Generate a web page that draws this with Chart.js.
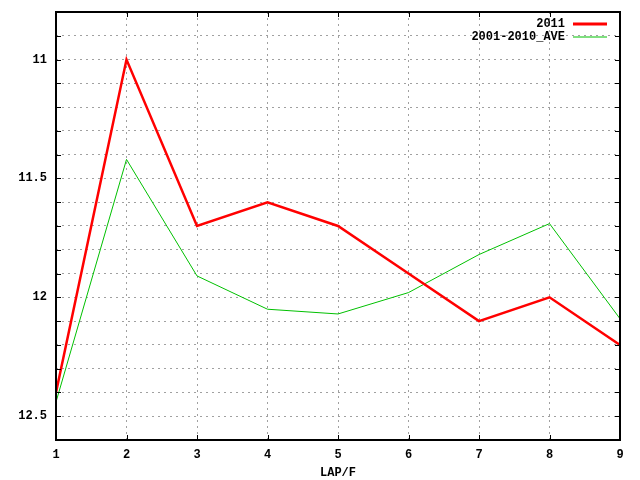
<!DOCTYPE html>
<html>
<head>
  <meta charset="UTF-8">
  <title>LAP/F</title>
  <script src="https://cdn.jsdelivr.net/npm/chart.js"></script>
  <style>
    html, body { margin: 0; padding: 0; background: #fff; }
    #wrap { width: 640px; height: 480px; }
  </style>
</head>
<body>
  <div id="wrap"><canvas id="chart" width="640" height="480"></canvas></div>
  <script>
    const laps = [1, 2, 3, 4, 5, 6, 7, 8, 9];
    const lap2011 = [12.4, 11.0, 11.7, 11.6, 11.7, 11.9, 12.1, 12.0, 12.2];
    const lapAve = [12.44, 11.42, 11.91, 12.05, 12.07, 11.98, 11.82, 11.69, 12.09];
    const seriesNames = ['2011', '2001-2010_AVE'];

    const FONT = '"Liberation Mono", "DejaVu Sans Mono", monospace';

    // gnuplot-style frame, inward ticks and legend
    const frame = {
      id: 'frame',
      afterDraw(chart) {
        const ctx = chart.ctx, a = chart.chartArea;
        const x = chart.scales.x, y = chart.scales.y;
        ctx.save();
        ctx.strokeStyle = '#000';
        ctx.lineWidth = 1;
        ctx.setLineDash([]);
        ctx.beginPath();
        for (let v = 1; v <= 9; v++) {
          const px = Math.round(x.getPixelForValue(v)) + 0.5;
          ctx.moveTo(px, a.bottom); ctx.lineTo(px, a.bottom - 5);
          ctx.moveTo(px, a.top); ctx.lineTo(px, a.top + 5);
        }
        y.ticks.forEach(t => {
          const py = Math.round(y.getPixelForValue(t.value)) + 0.5;
          ctx.moveTo(a.left, py); ctx.lineTo(a.left + 5, py);
          ctx.moveTo(a.right, py); ctx.lineTo(a.right - 5, py);
        });
        ctx.stroke();
        ctx.lineWidth = 2;
        ctx.strokeRect(a.left, a.top, a.right - a.left, a.bottom - a.top);

        ctx.font = 'bold 12px ' + FONT;
        ctx.fillStyle = '#000';
        ctx.textAlign = 'right';
        ctx.textBaseline = 'middle';
        const cols = ['#ff0000', '#00c000'];
        const widths = [3, 1];
        seriesNames.forEach((n, i) => {
          const ly = 24 + i * 13;
          ctx.fillText(n, 565, ly);
          ctx.strokeStyle = cols[i];
          ctx.lineWidth = widths[i];
          ctx.beginPath();
          ctx.moveTo(573, ly); ctx.lineTo(607, ly);
          ctx.stroke();
        });
        ctx.restore();
      }
    };

    new Chart(document.getElementById('chart').getContext('2d'), {
      type: 'line',
      data: {
        datasets: [
          {
            label: seriesNames[0],
            data: laps.map((l, i) => ({ x: l, y: lap2011[i] })),
            borderColor: '#ff0000',
            borderWidth: 2.5,
            pointRadius: 0,
            tension: 0
          },
          {
            label: seriesNames[1],
            data: laps.map((l, i) => ({ x: l, y: lapAve[i] })),
            borderColor: '#00c000',
            borderWidth: 1,
            pointRadius: 0,
            tension: 0
          }
        ]
      },
      options: {
        responsive: false,
        animation: false,
        layout: { padding: { top: 12, right: 20, left: 0, bottom: 0 } },
        plugins: { legend: { display: false }, tooltip: { enabled: false } },
        scales: {
          x: {
            type: 'linear',
            min: 1, max: 9,
            afterFit: s => { s.height = 40; s.paddingLeft = 0; s.paddingRight = 0; },
            grid: { color: '#a0a0a0', lineWidth: 1, drawTicks: false },
            border: { display: false, dash: [2, 4] },
            ticks: { stepSize: 1, padding: 8, color: '#000', font: { family: FONT, size: 12, weight: 'bold' } },
            title: { display: true, text: 'LAP/F', color: '#000', padding: { top: 2, bottom: 0 }, font: { family: FONT, size: 12, weight: 'bold' } }
          },
          y: {
            reverse: true,
            min: 10.8, max: 12.6,
            afterFit: s => { s.width = 56; s.paddingTop = 0; s.paddingBottom = 0; },
            grid: { color: '#a0a0a0', lineWidth: 1, drawTicks: false },
            border: { display: false, dash: [2, 4] },
            ticks: {
              stepSize: 0.1,
              padding: 9,
              color: '#000',
              font: { family: FONT, size: 12, weight: 'bold' },
              callback: v => {
                const r = Math.round(v * 10);
                return r % 5 === 0 ? String(r / 10) : '';
              }
            }
          }
        }
      },
      plugins: [frame]
    });
  </script>
</body>
</html>
